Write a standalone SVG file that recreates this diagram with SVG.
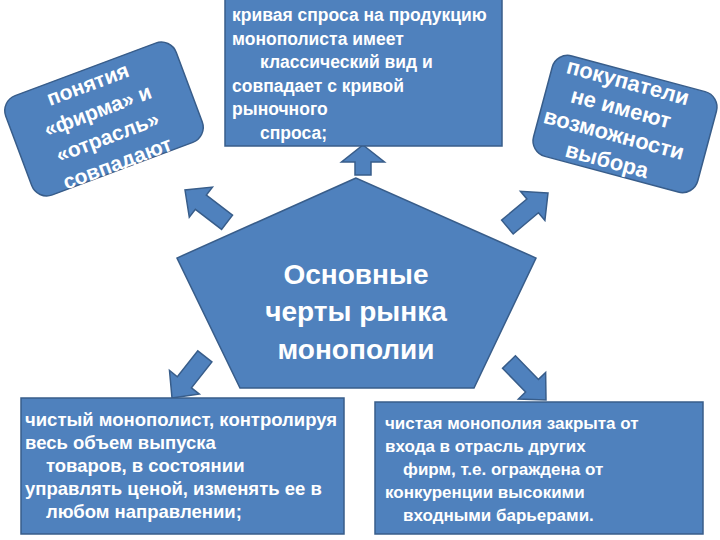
<svg xmlns="http://www.w3.org/2000/svg" width="720" height="540" viewBox="0 0 720 540">
<style>
.box{fill:#4F81BD;stroke:#385D8A;stroke-width:1.5}
.arr{fill:#4F81BD;stroke:#385D8A;stroke-width:1.5;stroke-linejoin:miter}
.rt{font-family:"Liberation Sans",Arial,sans-serif;font-size:21px;font-weight:bold;fill:#fff;text-anchor:middle}
.bt{font-family:"Liberation Sans",Arial,sans-serif;font-size:17.5px;font-weight:bold;fill:#fff}
.ct{font-family:"Liberation Sans",Arial,sans-serif;font-size:28px;font-weight:bold;fill:#fff;text-anchor:middle}
</style>
<defs>
<path id="darr" d="M0,0 L-20,-19 L-20,-9 L-53,-9 L-53,9 L-20,9 L-20,19 Z"/>
</defs>
<rect width="720" height="540" fill="#fff"/>
<g id="connectors">
<path class="arr" d="M363,145 L384.5,162 L371,162 L371,175 L355,175 L355,162 L341.5,162 Z"/>
<use href="#darr" class="arr" transform="translate(185,190) rotate(-142.5)"/>
<use href="#darr" class="arr" transform="translate(548,193) rotate(-40)"/>
<use href="#darr" class="arr" transform="translate(172,398) rotate(128.3)"/>
<use href="#darr" class="arr" transform="translate(546,400) rotate(45.7)"/>
</g>
<g id="node-center">
<polygon class="box" points="356,178 177,258 240,388 474,388 536,258"/>
<text class="ct" x="356" y="284">Основные</text>
<text class="ct" x="356" y="321">черты рынка</text>
<text class="ct" x="356" y="359">монополии</text>
</g>
<g id="node-top">
<rect class="box" x="225" y="-2" width="277" height="148"/>
<text class="bt" x="232" y="21">кривая спроса на продукцию</text>
<text class="bt" x="232" y="44.5">монополиста имеет</text>
<text class="bt" x="260" y="68">классический вид и</text>
<text class="bt" x="232" y="91.5">совпадает с кривой</text>
<text class="bt" x="232" y="115">рыночного</text>
<text class="bt" x="260" y="138.5">спроса;</text>
</g>
<g id="node-left" transform="translate(104,119) rotate(-20.5)">
<rect class="box" x="-91" y="-53" width="182" height="106" rx="16"/>
<text class="rt" x="-3" y="-31">понятия</text>
<text class="rt" x="-3" y="-3">«фирма» и</text>
<text class="rt" x="-3" y="25">«отрасль»</text>
<text class="rt" x="-3" y="53">совпадают</text>
</g>
<g id="node-right" transform="translate(625,124) rotate(15)">
<rect class="box" x="-85" y="-52" width="170" height="104" rx="16"/>
<text class="rt" x="-8" y="-34" style="font-size:22px">покупатели</text>
<text class="rt" x="-8" y="-7" style="font-size:22px">не имеют</text>
<text class="rt" x="-8" y="20" style="font-size:22px">возможности</text>
<text class="rt" x="-8" y="47" style="font-size:22px">выбора</text>
</g>
<g id="node-bottom-left" style="font-size:18.5px">
<rect class="box" x="21" y="398" width="323" height="136"/>
<text class="bt" x="25" y="426" style="font-size:18.5px">чистый монополист, контролируя</text>
<text class="bt" x="25" y="449" style="font-size:18.5px">весь объем выпуска</text>
<text class="bt" x="46" y="472" style="font-size:18.5px">товаров, в состоянии</text>
<text class="bt" x="25" y="495" style="font-size:18.5px">управлять ценой, изменять ее в</text>
<text class="bt" x="46" y="518" style="font-size:18.5px">любом направлении;</text>
</g>
<g id="node-bottom-right">
<rect class="box" x="375" y="402" width="328" height="132"/>
<text class="bt" x="385" y="429" style="font-size:17px">чистая монополия закрыта от</text>
<text class="bt" x="385" y="452" style="font-size:17px">входа в отрасль других</text>
<text class="bt" x="403" y="475" style="font-size:17px">фирм, т.е. ограждена от</text>
<text class="bt" x="385" y="498" style="font-size:17px">конкуренции высокими</text>
<text class="bt" x="403" y="521" style="font-size:17px">входными барьерами.</text>
</g>
</svg>
